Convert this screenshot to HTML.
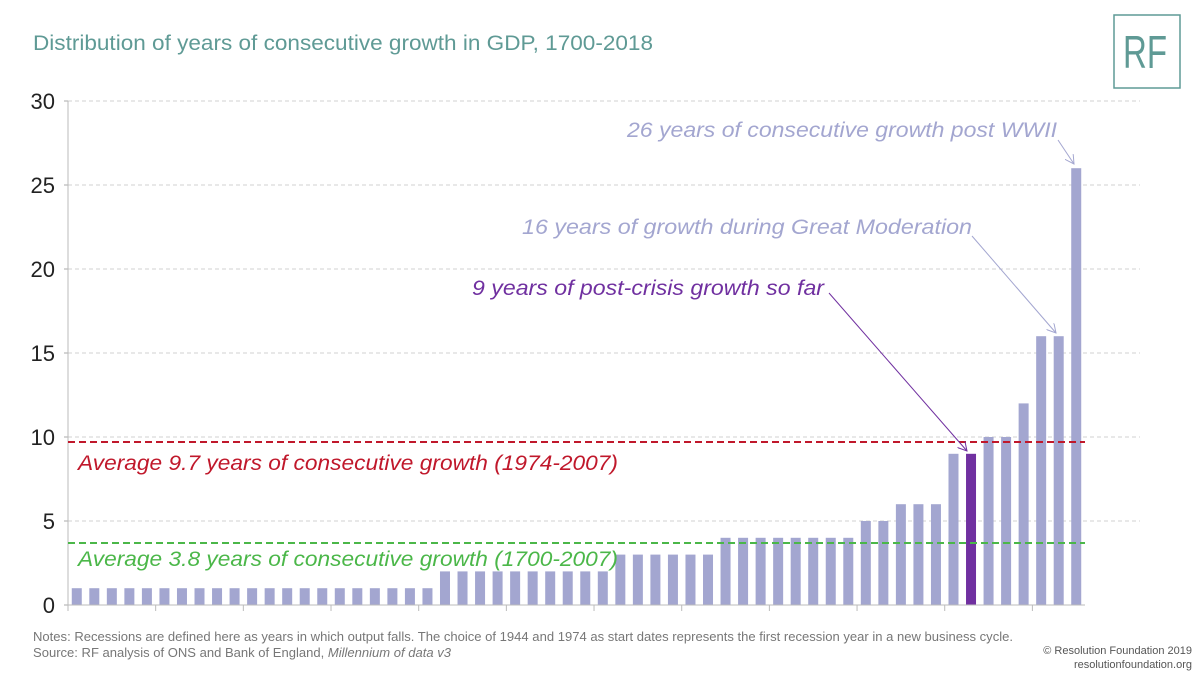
<!DOCTYPE html>
<html><head><meta charset="utf-8"><style>
body{margin:0;background:#fff;width:1200px;height:675px;overflow:hidden}
svg{display:block;font-family:"Liberation Sans",sans-serif}
</style></head><body>
<svg id="chart" width="1200" height="675" viewBox="0 0 1200 675">
<defs>
<marker id="ah-l" markerWidth="10" markerHeight="10" refX="9" refY="5" orient="auto" markerUnits="userSpaceOnUse"><path d="M0,0 L9,5 L0,10" fill="none" stroke="#a3a6d0" stroke-width="1"/></marker>
<marker id="ah-p" markerWidth="10" markerHeight="10" refX="9" refY="5" orient="auto" markerUnits="userSpaceOnUse"><path d="M0,0 L9,5 L0,10" fill="none" stroke="#7030a0" stroke-width="1"/></marker>
</defs>
<text x="33" y="50" font-size="21" fill="#5f9a95" textLength="620" lengthAdjust="spacingAndGlyphs">Distribution of years of consecutive growth in GDP, 1700-2018</text>
<g>
<rect x="1114" y="15" width="66" height="73" fill="none" stroke="#5f9a95" stroke-width="1.5"/>
<text x="1145" y="68" font-size="46" fill="#5f9a95" text-anchor="middle" textLength="44" lengthAdjust="spacingAndGlyphs">RF</text>
</g>
<g id="grid"></g><g id="bars"></g><g id="axes"></g>
<line x1="68" y1="442" x2="1085" y2="442" stroke="#c0182b" stroke-width="2" stroke-dasharray="7,4"/>
<text x="78" y="470" font-size="21" font-style="italic" fill="#c0182b" textLength="540" lengthAdjust="spacingAndGlyphs">Average 9.7 years of consecutive growth (1974-2007)</text>
<line x1="68" y1="543" x2="1085" y2="543" stroke="#4bb749" stroke-width="2" stroke-dasharray="7,4"/>
<text x="78" y="566" font-size="21" font-style="italic" fill="#4bb749" textLength="540" lengthAdjust="spacingAndGlyphs">Average 3.8 years of consecutive growth (1700-2007)</text>
<text x="627" y="137" font-size="21" font-style="italic" fill="#a3a6d0" textLength="430" lengthAdjust="spacingAndGlyphs">26 years of consecutive growth post WWII</text>
<line x1="1058" y1="140" x2="1074" y2="164" stroke="#a3a6d0" stroke-width="1" marker-end="url(#ah-l)"/>
<text x="522" y="234" font-size="21" font-style="italic" fill="#a3a6d0" textLength="450" lengthAdjust="spacingAndGlyphs">16 years of growth during Great Moderation</text>
<line x1="972" y1="236" x2="1056" y2="333" stroke="#a3a6d0" stroke-width="1" marker-end="url(#ah-l)"/>
<text x="472" y="295" font-size="21" font-style="italic" fill="#7030a0" textLength="352" lengthAdjust="spacingAndGlyphs">9 years of post-crisis growth so far</text>
<line x1="829" y1="293" x2="967" y2="451" stroke="#7030a0" stroke-width="1" marker-end="url(#ah-p)"/>
<text x="33" y="641" font-size="13" fill="#777" textLength="980" lengthAdjust="spacingAndGlyphs">Notes: Recessions are defined here as years in which output falls. The choice of 1944 and 1974 as start dates represents the first recession year in a new business cycle.</text>
<text x="33" y="657" font-size="13" fill="#777" textLength="418" lengthAdjust="spacingAndGlyphs">Source: RF analysis of ONS and Bank of England, <tspan font-style="italic">Millennium of data v3</tspan></text>
<text x="1192" y="654" font-size="11" fill="#555" text-anchor="end">© Resolution Foundation 2019</text>
<text x="1192" y="668" font-size="11" fill="#555" text-anchor="end">resolutionfoundation.org</text>
</svg>
<script>
const values=[1,1,1,1,1,1,1,1,1,1,1,1,1,1,1,1,1,1,1,1,1,2,2,2,2,2,2,2,2,2,2,3,3,3,3,3,3,4,4,4,4,4,4,4,4,5,5,6,6,6,9,9,10,10,12,16,16,26];
const highlightIndex=[51];
const yTicks=[0,5,10,15,20,25,30];
const NS="http://www.w3.org/2000/svg";
const x0=68,x1=1085,yBase=605,yTop=101,yMax=30;
const band=(x1-x0)/values.length;
const xS=i=>x0+band*i;
const yS=v=>yBase-(v/yMax)*(yBase-yTop);
function mk(tag,attrs,parent){const e=document.createElementNS(NS,tag);for(const k in attrs)e.setAttribute(k,attrs[k]);parent.appendChild(e);return e;}
const grid=document.getElementById('grid'),bars=document.getElementById('bars'),axes=document.getElementById('axes');
yTicks.forEach(t=>{
  if(t>0){const g=mk('line',{x1:x0,x2:1140,y1:yS(t),y2:yS(t),stroke:'#d0d0d0','stroke-dasharray':'4,3'},grid);
  
  }
  const tk=mk('line',{x1:x0-4,x2:x0,y1:yS(t),y2:yS(t),stroke:'#aaa'},axes);
  
  
  const l=mk('text',{x:55,y:yS(t)+8,'font-size':22,'text-anchor':'end',fill:'#222'},axes);
  l.textContent=t;
  
  
});
values.forEach((v,i)=>{
  const w=10;
  const r=mk('rect',{x:xS(i)+band/2-w/2,y:yS(v),width:w,height:yBase-yS(v),fill:highlightIndex.includes(i)?'#7030a0':'#a3a6d0'},bars);
  
  
});
const ya=mk('line',{x1:x0,x2:x0,y1:yTop,y2:yBase,stroke:'#bbb'},axes);


const xa=mk('line',{x1:x0,x2:x1,y1:yBase,y2:yBase,stroke:'#bbb'},axes);


for(let i=0;i<=values.length;i+=5){
  const t=mk('line',{x1:xS(i),x2:xS(i),y1:yBase,y2:yBase+6,stroke:'#bbb'},axes);
  
  
}
</script>
</body></html>
